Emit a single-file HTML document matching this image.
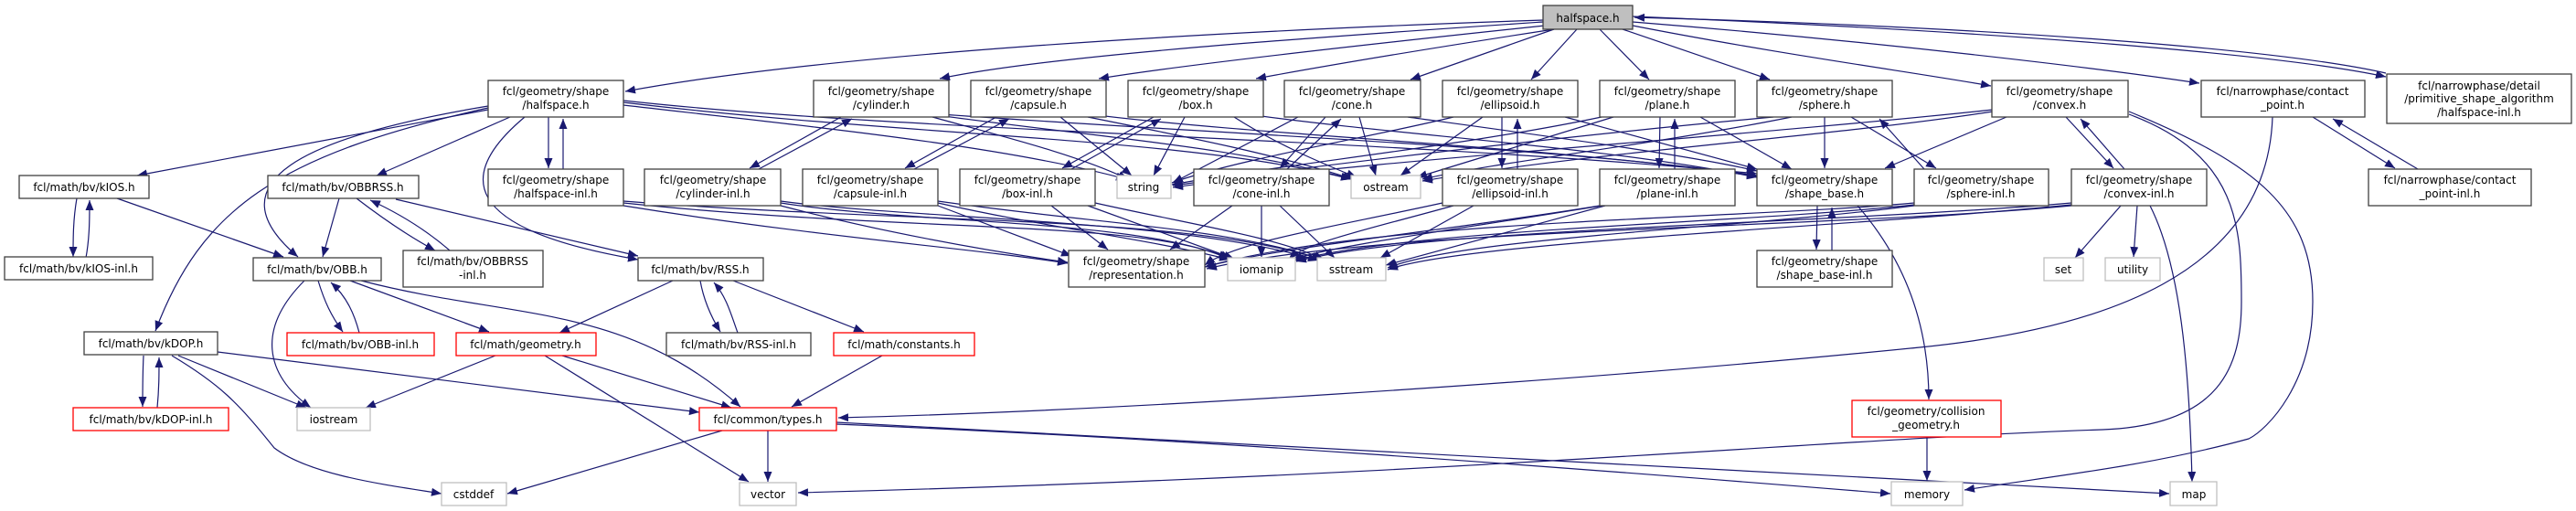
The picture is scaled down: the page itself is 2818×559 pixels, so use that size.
<!DOCTYPE html>
<html><head><meta charset="utf-8"><style>
html,body{margin:0;padding:0;background:#fff;}
svg{display:block;}
text{font-family:"DejaVu Sans","Liberation Sans",sans-serif;font-size:12px;fill:#000;}
.n rect{fill:#fff;stroke:#404040;stroke-width:1.3;}
.g rect{fill:#fff;stroke:#bfbfbf;stroke-width:1.3;}
.r rect{fill:#fff;stroke:#ff0000;stroke-width:1.3;}
.e{fill:none;stroke:#191970;stroke-width:1.2;marker-end:url(#a);}
</style></head><body>
<svg width="2818" height="559" viewBox="0 0 2818 559" xmlns="http://www.w3.org/2000/svg">
<defs><marker id="a" markerUnits="userSpaceOnUse" markerWidth="12" markerHeight="10" refX="11" refY="4.5" orient="auto"><path d="M0,0 L11,4.5 L0,9 z" fill="#191970"/></marker></defs>
<g>
<!-- root edges -->
<path class="e" d="M1688,22 C1300,35 900,60 684,100"/>
<path class="e" d="M1688,24 C1450,40 1150,60 1028,86"/>
<path class="e" d="M1690,28 C1500,48 1300,70 1202,86"/>
<path class="e" d="M1700,32 C1550,55 1450,72 1374,86"/>
<path class="e" d="M1700,32 L1543,87"/>
<path class="e" d="M1725,32 L1675,87"/>
<path class="e" d="M1750,32 L1804,87"/>
<path class="e" d="M1775,32 L1936,87"/>
<path class="e" d="M1786,28 C1950,60 2100,80 2178,94"/>
<path class="e" d="M1786,24 C2050,45 2300,75 2406,91"/>
<path class="e" d="M1786,18 C2200,35 2500,60 2610,84"/>
<path class="e" d="M2610,80 C2500,55 2200,30 1788,19"/>
<!-- shape/halfspace.h -->
<path class="e" d="M534,120 L150,192"/>
<path class="e" d="M558,128 L412,192"/>
<path class="e" d="M534,116 C330,150 230,200 326,281"/>
<path class="e" d="M534,118 C300,170 220,230 170,362"/>
<path class="e" d="M600,128 L600,184"/>
<path class="e" d="M616,185 L616,130"/>
<path class="e" d="M574,128 C500,190 500,250 698,284"/>
<path class="e" d="M682,115 C900,140 1100,160 1232,196"/>
<path class="e" d="M682,112 C1000,150 1300,150 1478,196"/>
<path class="e" d="M682,110 C1000,145 1500,150 1922,190"/>
<path class="e" d="M682,225 C900,260 1050,270 1168,288"/>
<path class="e" d="M682,222 C1000,255 1250,240 1346,283"/>
<path class="e" d="M682,220 C1000,245 1300,235 1446,284"/>
<!-- kIOS -->
<path class="e" d="M84,217 C80,240 80,260 80,281"/>
<path class="e" d="M94,282 C98,260 98,240 98,219"/>
<path class="e" d="M128,217 L310,281"/>
<!-- OBBRSS -->
<path class="e" d="M371,217 L353,281"/>
<path class="e" d="M390,217 C420,240 450,260 476,274"/>
<path class="e" d="M492,274 C470,255 440,235 405,219"/>
<path class="e" d="M433,218 L698,280"/>
<!-- OBB -->
<path class="e" d="M333,307 C280,360 290,410 340,446"/>
<path class="e" d="M348,307 C355,330 362,345 375,363"/>
<path class="e" d="M393,364 C388,345 380,325 362,309"/>
<path class="e" d="M383,307 L535,363"/>
<path class="e" d="M395,307 C560,350 680,330 810,445"/>
<!-- kDOP -->
<path class="e" d="M157,389 C156,410 156,430 156,445"/>
<path class="e" d="M172,446 C174,425 174,410 174,391"/>
<path class="e" d="M195,389 L335,446"/>
<path class="e" d="M188,389 C240,420 260,440 300,490 C340,520 420,530 483,540"/>
<path class="e" d="M238,385 L765,451"/>
<!-- geometry -->
<path class="e" d="M542,389 L400,446"/>
<path class="e" d="M596,389 L819,527"/>
<path class="e" d="M615,389 L800,446"/>
<!-- RSS -->
<path class="e" d="M736,307 L612,364"/>
<path class="e" d="M766,307 C770,330 780,350 788,363"/>
<path class="e" d="M807,364 C800,345 795,325 781,309"/>
<path class="e" d="M802,307 L945,363"/>
<path class="e" d="M965,389 L866,445"/>
<!-- types -->
<path class="e" d="M840,471 L840,527"/>
<path class="e" d="M790,471 L555,540"/>
<path class="e" d="M915,464 C1300,480 1700,510 2068,540"/>
<path class="e" d="M915,462 C1500,490 2000,520 2373,540"/>
<path class="e" d="M2486,128 C2480,300 2300,360 2100,380 C1700,420 1200,450 917,457"/>
<!-- cylinder -->
<path class="e" d="M920,128 L820,184"/>
<path class="e" d="M830,185 L932,130"/>
<path class="e" d="M1020,128 C1100,150 1180,170 1234,196"/>
<path class="e" d="M1025,126 C1200,150 1350,160 1478,196"/>
<path class="e" d="M1030,125 C1300,145 1700,160 1922,192"/>
<path class="e" d="M854,225 C950,250 1050,270 1168,287"/>
<path class="e" d="M854,222 C1000,245 1250,240 1344,283"/>
<path class="e" d="M854,220 C1000,240 1300,240 1442,285"/>
<!-- capsule -->
<path class="e" d="M1090,128 L990,184"/>
<path class="e" d="M1000,185 L1104,130"/>
<path class="e" d="M1160,128 L1238,192"/>
<path class="e" d="M1190,128 C1300,150 1400,170 1480,196"/>
<path class="e" d="M1200,126 C1400,150 1700,160 1922,193"/>
<path class="e" d="M1026,225 L1172,280"/>
<path class="e" d="M1026,222 C1150,250 1250,260 1345,284"/>
<path class="e" d="M1026,220 C1200,245 1350,250 1446,284"/>
<!-- box -->
<path class="e" d="M1262,128 L1162,184"/>
<path class="e" d="M1172,185 L1270,130"/>
<path class="e" d="M1296,128 L1262,192"/>
<path class="e" d="M1350,128 C1400,160 1450,180 1484,194"/>
<path class="e" d="M1372,126 C1550,150 1750,160 1922,194"/>
<path class="e" d="M1150,225 L1212,273"/>
<path class="e" d="M1190,225 L1350,283"/>
<path class="e" d="M1198,222 C1300,245 1400,260 1448,284"/>
<!-- cone -->
<path class="e" d="M1450,128 L1400,184"/>
<path class="e" d="M1408,185 L1467,130"/>
<path class="e" d="M1487,128 L1505,192"/>
<path class="e" d="M1420,128 L1283,200"/>
<path class="e" d="M1540,128 C1700,150 1850,170 1922,187"/>
<path class="e" d="M1348,225 L1280,273"/>
<path class="e" d="M1380,225 L1380,281"/>
<path class="e" d="M1400,225 L1460,282"/>
<!-- ellipsoid -->
<path class="e" d="M1643,128 L1643,184"/>
<path class="e" d="M1660,185 L1660,130"/>
<path class="e" d="M1622,128 L1532,192"/>
<path class="e" d="M1712,128 L1922,185"/>
<path class="e" d="M1590,128 C1500,150 1350,175 1282,200"/>
<path class="e" d="M1578,222 C1450,250 1350,265 1318,290"/>
<path class="e" d="M1590,225 C1500,250 1430,265 1410,283"/>
<path class="e" d="M1612,225 L1510,282"/>
<!-- plane -->
<path class="e" d="M1816,128 L1815,184"/>
<path class="e" d="M1832,185 L1832,130"/>
<path class="e" d="M1765,128 L1550,194"/>
<path class="e" d="M1860,128 L1960,185"/>
<path class="e" d="M1752,128 C1600,160 1400,180 1282,202"/>
<path class="e" d="M1750,225 C1600,250 1400,270 1318,292"/>
<path class="e" d="M1752,225 C1600,250 1450,270 1414,284"/>
<path class="e" d="M1756,225 L1516,290"/>
<!-- sphere -->
<path class="e" d="M1996,128 L1996,184"/>
<path class="e" d="M2025,128 L2118,184"/>
<path class="e" d="M2105,185 L2056,130"/>
<path class="e" d="M1960,128 C1800,160 1650,175 1556,196"/>
<path class="e" d="M1940,128 C1700,150 1450,180 1283,203"/>
<path class="e" d="M2094,222 C1900,240 1500,240 1318,292"/>
<path class="e" d="M2094,224 C1900,245 1550,250 1416,285"/>
<path class="e" d="M2094,225 C1900,250 1600,260 1518,293"/>
<!-- convex -->
<path class="e" d="M2260,128 L2312,184"/>
<path class="e" d="M2324,185 L2276,130"/>
<path class="e" d="M2195,128 L2062,184"/>
<path class="e" d="M2180,122 C2000,150 1750,165 1556,198"/>
<path class="e" d="M2180,120 C1900,150 1500,175 1283,205"/>
<path class="e" d="M2329,125 C2450,170 2452,250 2452,330 C2452,400 2430,465 2300,470 C2000,480 1600,520 873,539"/>
<path class="e" d="M2329,122 C2470,180 2530,230 2530,330 C2530,420 2480,470 2460,480 C2350,510 2250,520 2149,536"/>
<path class="e" d="M2266,225 C2000,250 1500,250 1320,294"/>
<path class="e" d="M2266,222 C2000,245 1550,250 1418,286"/>
<path class="e" d="M2266,224 C2000,250 1600,265 1518,295"/>
<path class="e" d="M2320,225 L2270,282"/>
<path class="e" d="M2338,225 L2334,281"/>
<path class="e" d="M2352,225 C2385,290 2395,400 2398,527"/>
<!-- contact point -->
<path class="e" d="M2530,128 L2620,184"/>
<path class="e" d="M2645,185 L2552,130"/>
<!-- shape_base -->
<path class="e" d="M1988,225 L1987,273"/>
<path class="e" d="M2004,274 L2004,227"/>
<path class="e" d="M2032,225 C2080,280 2110,350 2110,437"/>
<path class="e" d="M2108,478 L2108,526"/>
</g>
<!-- nodes -->
<g class="n" style="stroke:none"><rect x="1688" y="6" width="98" height="26" style="fill:#bfbfbf;stroke:#404040;stroke-width:1.3"/></g>
<text x="1737" y="24" text-anchor="middle">halfspace.h</text>

<g class="n">
<rect x="534" y="88" width="148" height="40"/>
<rect x="890" y="88" width="148" height="40"/>
<rect x="1062" y="88" width="148" height="40"/>
<rect x="1234" y="88" width="148" height="40"/>
<rect x="1405" y="88" width="149" height="40"/>
<rect x="1578" y="88" width="148" height="40"/>
<rect x="1750" y="88" width="148" height="40"/>
<rect x="1922" y="88" width="148" height="40"/>
<rect x="2179" y="88" width="149" height="40"/>
<rect x="2408" y="88" width="179" height="40"/>
<rect x="2611" y="81" width="202" height="54"/>
<rect x="534" y="185" width="148" height="40"/>
<rect x="705" y="185" width="149" height="40"/>
<rect x="878" y="185" width="148" height="40"/>
<rect x="1050" y="185" width="148" height="40"/>
<rect x="1306" y="185" width="148" height="40"/>
<rect x="1578" y="185" width="148" height="40"/>
<rect x="1750" y="185" width="148" height="40"/>
<rect x="1922" y="185" width="148" height="40"/>
<rect x="2094" y="185" width="147" height="40"/>
<rect x="2266" y="185" width="148" height="40"/>
<rect x="2591" y="185" width="178" height="40"/>
<rect x="21" y="192" width="142" height="25"/>
<rect x="293" y="192" width="165" height="25"/>
<rect x="5" y="281" width="162" height="25"/>
<rect x="277" y="282" width="140" height="25"/>
<rect x="441" y="274" width="153" height="40"/>
<rect x="698" y="282" width="137" height="25"/>
<rect x="1169" y="274" width="149" height="40"/>
<rect x="1922" y="274" width="148" height="40"/>
<rect x="92" y="363" width="146" height="25"/>
<rect x="729" y="364" width="158" height="25"/>
</g>
<g class="r">
<rect x="314" y="364" width="161" height="25"/>
<rect x="499" y="364" width="153" height="25"/>
<rect x="912" y="364" width="154" height="25"/>
<rect x="80" y="446" width="170" height="25"/>
<rect x="765" y="446" width="150" height="25"/>
<rect x="2026" y="438" width="163" height="40"/>
</g>
<g class="g">
<rect x="1222" y="192" width="59" height="25"/>
<rect x="1478" y="192" width="76" height="25"/>
<rect x="1343" y="282" width="74" height="25"/>
<rect x="1441" y="282" width="75" height="25"/>
<rect x="2236" y="282" width="43" height="25"/>
<rect x="2303" y="282" width="60" height="25"/>
<rect x="325" y="446" width="80" height="25"/>
<rect x="483" y="528" width="71" height="25"/>
<rect x="809" y="528" width="62" height="25"/>
<rect x="2069" y="527" width="78" height="26"/>
<rect x="2374" y="527" width="51" height="26"/>
</g>
<g text-anchor="middle">
<text x="608" y="104">fcl/geometry/shape</text><text x="608" y="119">/halfspace.h</text>
<text x="964" y="104">fcl/geometry/shape</text><text x="964" y="119">/cylinder.h</text>
<text x="1136" y="104">fcl/geometry/shape</text><text x="1136" y="119">/capsule.h</text>
<text x="1308" y="104">fcl/geometry/shape</text><text x="1308" y="119">/box.h</text>
<text x="1479" y="104">fcl/geometry/shape</text><text x="1479" y="119">/cone.h</text>
<text x="1652" y="104">fcl/geometry/shape</text><text x="1652" y="119">/ellipsoid.h</text>
<text x="1824" y="104">fcl/geometry/shape</text><text x="1824" y="119">/plane.h</text>
<text x="1996" y="104">fcl/geometry/shape</text><text x="1996" y="119">/sphere.h</text>
<text x="2253" y="104">fcl/geometry/shape</text><text x="2253" y="119">/convex.h</text>
<text x="2497" y="104">fcl/narrowphase/contact</text><text x="2497" y="119">_point.h</text>
<text x="2712" y="98">fcl/narrowphase/detail</text><text x="2712" y="112">/primitive_shape_algorithm</text><text x="2712" y="127">/halfspace-inl.h</text>
<text x="608" y="201">fcl/geometry/shape</text><text x="608" y="216">/halfspace-inl.h</text>
<text x="780" y="201">fcl/geometry/shape</text><text x="780" y="216">/cylinder-inl.h</text>
<text x="952" y="201">fcl/geometry/shape</text><text x="952" y="216">/capsule-inl.h</text>
<text x="1124" y="201">fcl/geometry/shape</text><text x="1124" y="216">/box-inl.h</text>
<text x="1380" y="201">fcl/geometry/shape</text><text x="1380" y="216">/cone-inl.h</text>
<text x="1652" y="201">fcl/geometry/shape</text><text x="1652" y="216">/ellipsoid-inl.h</text>
<text x="1824" y="201">fcl/geometry/shape</text><text x="1824" y="216">/plane-inl.h</text>
<text x="1996" y="201">fcl/geometry/shape</text><text x="1996" y="216">/shape_base.h</text>
<text x="2167" y="201">fcl/geometry/shape</text><text x="2167" y="216">/sphere-inl.h</text>
<text x="2340" y="201">fcl/geometry/shape</text><text x="2340" y="216">/convex-inl.h</text>
<text x="2680" y="201">fcl/narrowphase/contact</text><text x="2680" y="216">_point-inl.h</text>
<text x="92" y="209">fcl/math/bv/kIOS.h</text>
<text x="375" y="209">fcl/math/bv/OBBRSS.h</text>
<text x="86" y="298">fcl/math/bv/kIOS-inl.h</text>
<text x="347" y="299">fcl/math/bv/OBB.h</text>
<text x="517" y="290">fcl/math/bv/OBBRSS</text><text x="517" y="305">-inl.h</text>
<text x="766" y="299">fcl/math/bv/RSS.h</text>
<text x="1243" y="290">fcl/geometry/shape</text><text x="1243" y="305">/representation.h</text>
<text x="1996" y="290">fcl/geometry/shape</text><text x="1996" y="305">/shape_base-inl.h</text>
<text x="165" y="380">fcl/math/bv/kDOP.h</text>
<text x="808" y="381">fcl/math/bv/RSS-inl.h</text>
<text x="394" y="381">fcl/math/bv/OBB-inl.h</text>
<text x="575" y="381">fcl/math/geometry.h</text>
<text x="989" y="381">fcl/math/constants.h</text>
<text x="165" y="463">fcl/math/bv/kDOP-inl.h</text>
<text x="840" y="463">fcl/common/types.h</text>
<text x="2107" y="454">fcl/geometry/collision</text><text x="2107" y="469">_geometry.h</text>
<text x="1251" y="209">string</text>
<text x="1516" y="209">ostream</text>
<text x="1380" y="299">iomanip</text>
<text x="1478" y="299">sstream</text>
<text x="2257" y="299">set</text>
<text x="2333" y="299">utility</text>
<text x="365" y="463">iostream</text>
<text x="518" y="545">cstddef</text>
<text x="840" y="545">vector</text>
<text x="2108" y="545">memory</text>
<text x="2400" y="545">map</text>
</g>
</svg>
</body></html>
